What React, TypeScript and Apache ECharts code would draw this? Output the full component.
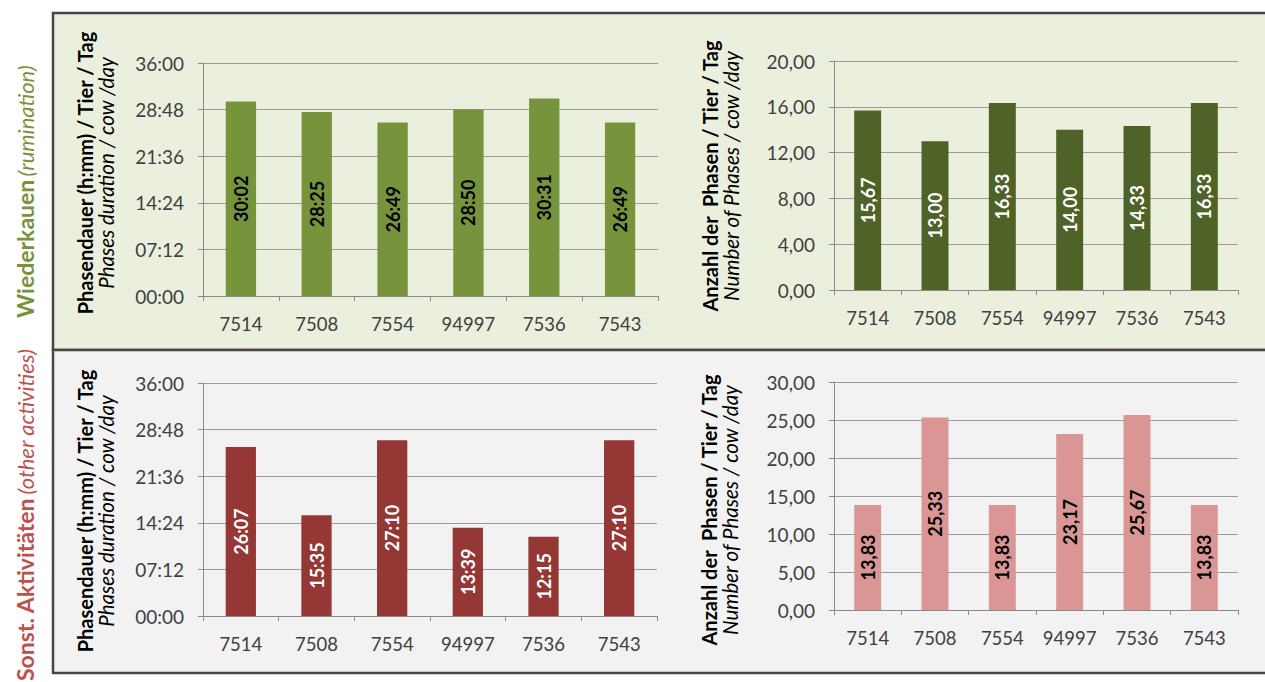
import React, { useEffect, useRef } from "react";
import * as echarts from "echarts";

// Cow IDs shown on every x axis
const cows = ["7514", "7508", "7554", "94997", "7536", "7543"];

// Rumination (Wiederkauen)
const ruminationDuration = ["30:02", "28:25", "26:49", "28:50", "30:31", "26:49"];
const ruminationCount = [15.67, 13.0, 16.33, 14.0, 14.33, 16.33];

// Other activities (Sonst. Aktivitäten)
const otherDuration = ["26:07", "15:35", "27:10", "13:39", "12:15", "27:10"];
const otherCount = [13.83, 25.33, 13.83, 23.17, 25.67, 13.83];

// Axis scales
const durationMaxMin = 36 * 60; // 36:00
const durationStepMin = 7 * 60 + 12; // 07:12
const ruminationCountMax = 20;
const ruminationCountStep = 4;
const otherCountMax = 30;
const otherCountStep = 5;

const FONT = "Lato, 'Open Sans', sans-serif";

const toMinutes = (s: string) => {
  const [h, m] = s.split(":").map(Number);
  return h * 60 + m;
};
const pad2 = (n: number) => (n < 10 ? "0" + n : String(n));
const fmtHM = (v: number) => {
  const m = Math.round(v);
  return pad2(Math.floor(m / 60)) + ":" + pad2(m % 60);
};
const fmtDec = (v: number) => v.toFixed(2).replace(".", ",");

export default function App() {
  const ref = useRef<HTMLDivElement>(null);

  useEffect(() => {
    if (!ref.current) return;
    const chart = echarts.init(ref.current, undefined, { renderer: "svg" });

    const grids = [
      { left: 203, top: 63, width: 455, height: 233 },
      { left: 834, top: 61, width: 404, height: 229 },
      { left: 203, top: 383, width: 454, height: 233 },
      { left: 834, top: 382, width: 404, height: 228 },
    ];

    const axisGray = "#8a8a8a";
    const labelColor = "#404040";

    const xAxes = grids.map((_, i) => ({
      type: "category",
      gridIndex: i,
      data: cows,
      axisLine: { lineStyle: { color: axisGray, width: 1 } },
      axisTick: { show: true, length: 5, lineStyle: { color: axisGray } },
      axisLabel: {
        interval: 0,
        margin: 18,
        color: labelColor,
        fontSize: 18.5,
        fontFamily: FONT,
      },
    }));

    const yBase = (i: number) => ({
      type: "value",
      gridIndex: i,
      min: 0,
      axisLine: { show: true, lineStyle: { color: axisGray, width: 1 } },
      axisTick: { show: true, length: 5, lineStyle: { color: axisGray } },
      splitLine: { lineStyle: { color: "#9a9a9a", width: 1 } },
      axisLabel: { margin: 19, color: labelColor, fontSize: 19, fontFamily: FONT },
    });

    const yAxes = [
      { ...yBase(0), max: durationMaxMin, interval: durationStepMin,
        axisLabel: { ...yBase(0).axisLabel, formatter: (v: number) => fmtHM(v) } },
      { ...yBase(1), max: ruminationCountMax, interval: ruminationCountStep,
        axisLabel: { ...yBase(1).axisLabel, formatter: (v: number) => fmtDec(v) } },
      { ...yBase(2), max: durationMaxMin, interval: durationStepMin,
        axisLabel: { ...yBase(2).axisLabel, formatter: (v: number) => fmtHM(v) } },
      { ...yBase(3), max: otherCountMax, interval: otherCountStep,
        axisLabel: { ...yBase(3).axisLabel, formatter: (v: number) => fmtDec(v) } },
    ];

    const bar = (
      i: number,
      data: number[],
      color: string,
      textColor: string,
      fmt: (v: number) => string
    ) => ({
      type: "bar",
      xAxisIndex: i,
      yAxisIndex: i,
      data,
      barWidth: "40%",
      itemStyle: { color },
      label: {
        show: true,
        position: "inside",
        rotate: 90,
        color: textColor,
        fontSize: 18,
        fontWeight: "bold",
        fontFamily: FONT,
        formatter: (p: any) => fmt(p.value),
      },
    });

    const axisTitle = (x: number, y: number, bold: string, italic: string) => ({
      type: "text",
      x,
      y,
      rotation: Math.PI / 2,
      z: 10,
      style: {
        text: `{b|${bold}}\n{i|${italic}}`,
        align: "center",
        verticalAlign: "middle",
        rich: {
          b: { fontSize: 20, fontWeight: "bold", fontFamily: FONT, fill: "#000", lineHeight: 21 },
          i: { fontSize: 20.5, fontStyle: "italic", fontFamily: FONT, fill: "#000", lineHeight: 21 },
        },
      },
    });

    // Row headings, written upwards from their starting point
    const sideLabel = (x: number, y: number, main: string, sub: string, color: string) => ({
      type: "text",
      x,
      y,
      rotation: Math.PI / 2,
      z: 10,
      style: {
        text: `{b|${main}} {i|${sub}}`,
        align: "left",
        verticalAlign: "middle",
        rich: {
          b: { fontSize: 23, fontWeight: "bold", fontFamily: FONT, fill: color },
          i: { fontSize: 22, fontStyle: "italic", fontFamily: FONT, fill: color },
        },
      },
    });

    chart.setOption({
      animation: false,
      backgroundColor: "#ffffff",
      grid: grids,
      xAxis: xAxes,
      yAxis: yAxes,
      graphic: [
        {
          type: "rect",
          z: -10,
          shape: { x: 53, y: 13, width: 1220, height: 337 },
          style: { fill: "#EBF0DE", stroke: "#4a4646", lineWidth: 2.5 },
        },
        {
          type: "rect",
          z: -10,
          shape: { x: 53, y: 350, width: 1220, height: 323 },
          style: { fill: "#F2F2F2", stroke: "#4a4646", lineWidth: 2.5 },
        },
        sideLabel(25, 318, "Wiederkauen", "(rumination)", "#77933C"),
        sideLabel(25, 681, "Sonst. Aktivitäten", "(other activities)", "#C0504D"),
        axisTitle(95, 173, "Phasendauer (h:mm) / Tier / Tag", "Phases duration / cow /day"),
        axisTitle(720, 176, "Anzahl der  Phasen / Tier / Tag", "Number of Phases / cow /day"),
        axisTitle(95, 511, "Phasendauer (h:mm) / Tier / Tag", "Phases duration / cow /day"),
        axisTitle(719, 510, "Anzahl der  Phasen / Tier / Tag", "Number of Phases / cow /day"),
      ],
      series: [
        bar(0, ruminationDuration.map(toMinutes), "#77933C", "#000000", fmtHM),
        bar(1, ruminationCount, "#4F6228", "#ffffff", fmtDec),
        bar(2, otherDuration.map(toMinutes), "#953735", "#ffffff", fmtHM),
        bar(3, otherCount, "#D99694", "#000000", fmtDec),
      ],
    });

    return () => chart.dispose();
  }, []);

  return (
    <div
      ref={ref}
      style={{ position: "fixed", left: 0, top: 0, width: 1265, height: 682 }}
    />
  );
}
